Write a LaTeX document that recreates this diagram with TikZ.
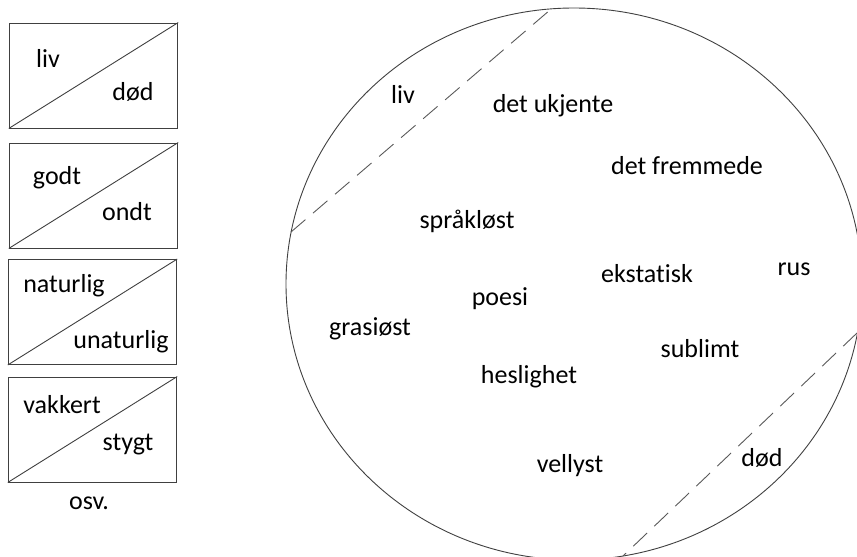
\documentclass[tikz,border=0pt]{standalone}
\usepackage{fontspec}
\setmainfont{Carlito}[Ligatures=NoCommon]
\begin{document}
\begin{tikzpicture}[x=1pt,y=-1pt,
    pairbox/.style={draw=black!75, line width=0.9pt, minimum width=168.5pt,
      minimum height=105pt, inner sep=0pt},
    word/.style={anchor=base, inner sep=0pt, font=\fontsize{26}{30}\selectfont},
    cut/.style={draw=black!65, line width=0.9pt, dash pattern=on 19pt off 10pt}]
  \useasboundingbox (0,0) rectangle (857,557);
  % the pairs of opposites
  \draw
    (93.5,75.5) node[pairbox] (b1) {}
    (93.5,195.5) node[pairbox] (b2) {}
    (92.5,312) node[pairbox] (b3) {}
    (92.5,429.5) node[pairbox] (b4) {};
  \begin{scope}[draw=black!75, line width=0.9pt]
    \draw (b1.south west) to (b1.north east);
    \draw (b2.south west) to (b2.north east);
    \draw (b3.south west) to (b3.north east);
    \draw (b4.south west) to (b4.north east);
  \end{scope}
  \draw
    (48,67) node[word] (liv1){liv}
    (133,100) node[word] (dod1){død}
    (57,184) node[word] (godt){godt}
    (127,220) node[word] (ondt){ondt}
    (64,292) node[word] (nat){naturlig}
    (121,348) node[word] (unat){unaturlig}
    (62,413) node[word] (vakk){vakkert}
    (128,450) node[word] (styg){stygt}
    (89,509) node[word] (osv){osv.};
  % the big circle
  \begin{scope}
    \clip (0,0) rectangle (857,557);
    \draw[draw=black!75, line width=0.9pt] (574,284) ellipse [x radius=288, y radius=276];
  \end{scope}
  \coordinate (c1) at (291,232);
  \coordinate (c2) at (550,10);
  \coordinate (c3) at (857,333);
  \coordinate (c4) at (623,556);
  \draw[cut] (c1) -- (c2);
  \draw[cut] (c3) -- (c4);
  \draw
    (403,103) node[word] (liv2){liv}
    (553,112) node[word] (ukj){det ukjente}
    (687,174) node[word] (frem){det fremmede}
    (467,228) node[word] (sprak){språkløst}
    (647,282) node[word] (ekst){ekstatisk}
    (794,275) node[word] (rus){rus}
    (500,305) node[word] (poesi){poesi}
    (370,335) node[word] (gras){grasiøst}
    (700,357) node[word] (subl){sublimt}
    (529,383) node[word] (hesl){heslighet}
    (570,472) node[word] (vell){vellyst}
    (762,466) node[word] (dod2){død};
\end{tikzpicture}
\end{document}
